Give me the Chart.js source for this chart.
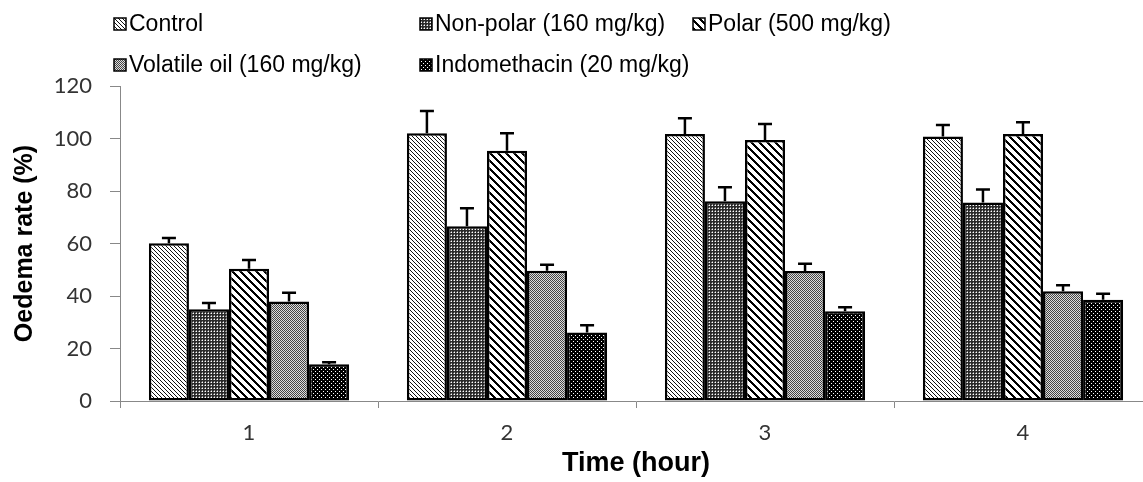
<!DOCTYPE html>
<html>
<head>
<meta charset="utf-8">
<script src="https://cdn.jsdelivr.net/npm/chart.js@4/dist/chart.umd.min.js"></script>
<style>
    html, body { margin: 0; padding: 0; background: #fff; overflow: hidden; }
    #wrap { width: 1160px; height: 482px; }
</style>
</head>
<body>
<div id="wrap"><canvas id="barChart" width="1160" height="482"></canvas></div>
<script>
// data
var categories = ['1', '2', '3', '4'];
var seriesNames = ['Control', 'Non-polar (160 mg/kg)', 'Polar (500 mg/kg)', 'Volatile oil (160 mg/kg)', 'Indomethacin (20 mg/kg)'];
var control = [60.1, 102.0, 101.7, 100.8];
var controlErr = [2.0, 8.5, 6.0, 4.3];
var nonPolar = [35.0, 66.6, 76.1, 75.6];
var nonPolarErr = [2.3, 6.8, 5.3, 5.0];
var polar = [50.4, 95.3, 99.4, 101.7];
var polarErr = [3.3, 6.7, 6.1, 4.5];
var volatileOil = [37.9, 49.6, 49.5, 41.8];
var volatileOilErr = [3.3, 2.3, 2.8, 2.3];
var indomethacin = [14.0, 26.1, 34.2, 38.6];
var indomethacinErr = [0.8, 2.8, 1.5, 2.3];
var yTicks = { min: 0, max: 120, step: 20 };

var canvas = document.getElementById('barChart');
var mainCtx = canvas.getContext('2d');

// ------------------------------------------------------- //
// Fill patterns
// ------------------------------------------------------ //
function makePattern(size, paint) {
    var c = document.createElement('canvas');
    c.width = size;
    c.height = size;
    var g = c.getContext('2d');
    paint(g, size);
    return mainCtx.createPattern(c, 'repeat');
}
function px(g, x, y, col) {
    g.fillStyle = col;
    g.fillRect(x, y, 1, 1);
}

var patControl = makePattern(4, function (g, n) {
    g.fillStyle = '#fff'; g.fillRect(0, 0, n, n);
    for (var i = 0; i < n; i++) { px(g, i, i, '#111'); }
});
var patNonPolar = makePattern(3, function (g, n) {
    g.fillStyle = '#2a2a2a'; g.fillRect(0, 0, n, n);
    px(g, 1, 1, '#fff');
    px(g, 1, 0, '#8a8a8a');
    px(g, 0, 1, '#8a8a8a');
});
var patPolar = makePattern(8, function (g, n) {
    g.fillStyle = '#fff'; g.fillRect(0, 0, n, n);
    for (var x = 0; x < n; x++) {
        for (var y = 0; y < n; y++) {
            if (((x - y) % n + n) % n < 3) { px(g, x, y, '#000'); }
        }
    }
});
var patVolatile = makePattern(2, function (g) {
    px(g, 0, 0, '#444'); px(g, 1, 1, '#444');
    px(g, 1, 0, '#ddd'); px(g, 0, 1, '#ddd');
});
var patIndo = makePattern(4, function (g, n) {
    g.fillStyle = '#000'; g.fillRect(0, 0, n, n);
    px(g, 1, 1, '#fff');
    px(g, 3, 3, '#fff');
});

var patterns = [patControl, patNonPolar, patPolar, patVolatile, patIndo];
var values = [control, nonPolar, polar, volatileOil, indomethacin];
var errors = [controlErr, nonPolarErr, polarErr, volatileOilErr, indomethacinErr];

var datasets = seriesNames.map(function (name, i) {
    return {
        label: name,
        data: values[i],
        errors: errors[i],
        backgroundColor: patterns[i],
        borderColor: '#000',
        borderWidth: 2.5,
        borderSkipped: false,
        barPercentage: 1.0,
        categoryPercentage: 0.776
    };
});

// ------------------------------------------------------- //
// Error bars
// ------------------------------------------------------ //
var errorBars = {
    id: 'errorBars',
    afterDatasetsDraw: function (chart) {
        var ctx = chart.ctx;
        var yScale = chart.scales.y;
        ctx.save();
        ctx.strokeStyle = '#000';
        ctx.lineWidth = 2.5;
        chart.data.datasets.forEach(function (ds, i) {
            chart.getDatasetMeta(i).data.forEach(function (bar, j) {
                var top = yScale.getPixelForValue(ds.data[j] + ds.errors[j]);
                ctx.beginPath();
                ctx.moveTo(bar.x, bar.y);
                ctx.lineTo(bar.x, top);
                ctx.moveTo(bar.x - 7, top);
                ctx.lineTo(bar.x + 7, top);
                ctx.stroke();
            });
        });
        ctx.restore();
    }
};

// ------------------------------------------------------- //
// Legend, two rows in three columns
// ------------------------------------------------------ //
var legendSlots = [[114, 24], [420, 24], [693, 24], [114, 65], [420, 65]];
var patternLegend = {
    id: 'patternLegend',
    afterDraw: function (chart) {
        var ctx = chart.ctx;
        ctx.save();
        ctx.font = '23px "Liberation Sans", Arial, sans-serif';
        ctx.textBaseline = 'middle';
        chart.data.datasets.forEach(function (ds, i) {
            var s = legendSlots[i];
            ctx.fillStyle = ds.backgroundColor;
            ctx.fillRect(s[0], s[1] - 6, 12, 12);
            ctx.strokeStyle = '#000';
            ctx.lineWidth = 1.5;
            ctx.strokeRect(s[0], s[1] - 6, 12, 12);
            ctx.fillStyle = '#000';
            ctx.fillText(ds.label, s[0] + 15, s[1] + 1);
        });
        ctx.restore();
    }
};

var myBarChart = new Chart(canvas, {
    type: 'bar',
    data: {
        labels: categories,
        datasets: datasets
    },
    plugins: [errorBars, patternLegend],
    options: {
        responsive: false,
        animation: false,
        layout: {
            padding: { top: 86, right: 8, left: 0, bottom: 0 }
        },
        plugins: {
            legend: { display: false },
            tooltip: { enabled: false }
        },
        scales: {
            x: {
                afterFit: function (s) { s.height = 81; },
                grid: {
                    drawOnChartArea: false,
                    offset: true,
                    tickLength: 7,
                    color: '#888'
                },
                border: { color: '#888', width: 1 },
                ticks: {
                    color: '#333',
                    padding: 12,
                    font: { family: 'Lato', size: 22 }
                },
                title: {
                    display: true,
                    text: 'Time (hour)',
                    color: '#000',
                    padding: { top: 0, bottom: 2 },
                    font: { family: '"Liberation Sans", Arial, sans-serif', size: 27, weight: 'bold' }
                }
            },
            y: {
                min: yTicks.min,
                max: yTicks.max,
                afterFit: function (s) { s.width = 120; },
                grid: {
                    drawOnChartArea: false,
                    tickLength: 10,
                    color: '#888'
                },
                border: { color: '#888', width: 1 },
                ticks: {
                    stepSize: yTicks.step,
                    color: '#333',
                    padding: 18,
                    font: { family: 'Lato', size: 22 }
                },
                title: {
                    display: true,
                    text: 'Oedema rate (%)',
                    color: '#000',
                    padding: { top: 10, bottom: 0 },
                    font: { family: '"Liberation Sans", Arial, sans-serif', size: 25, weight: 'bold' }
                }
            }
        }
    }
});
</script>
</body>
</html>
